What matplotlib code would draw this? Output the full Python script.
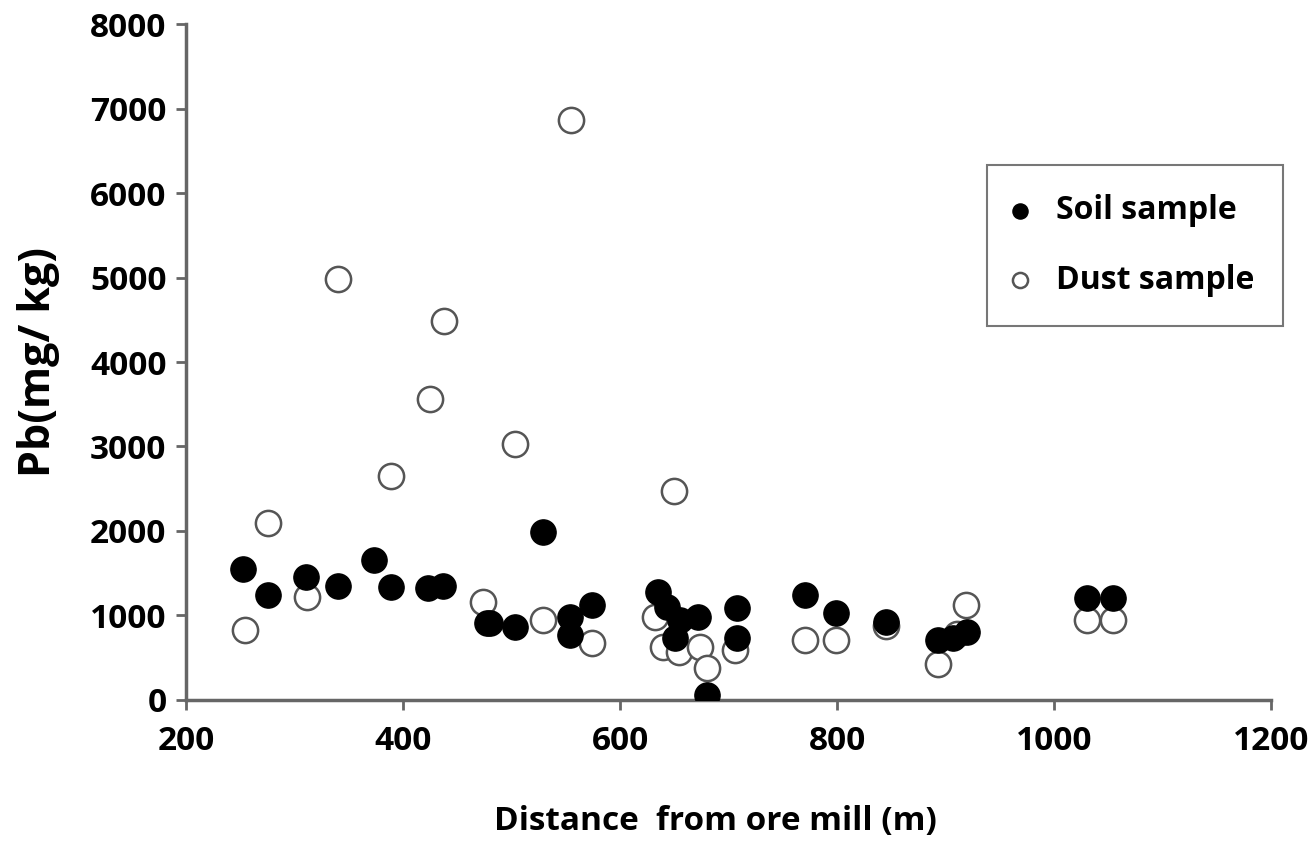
import numpy as np
import matplotlib
matplotlib.use("Agg")
import matplotlib.pyplot as plt

plt.rcParams['font.family'] = ['Open Sans', 'DejaVu Sans']
plt.rcParams['font.weight'] = 'bold'

# soil samples: distance (m), Pb (mg/kg)
soil_x = [253, 276, 311, 340, 373, 389, 423, 437, 477, 480, 503, 529, 554, 554,
          574, 635, 643, 655, 672, 651, 680, 708, 708, 770, 799, 845, 893, 907,
          920, 1030, 1054]
soil_y = [1547, 1240, 1452, 1346, 1653, 1334, 1322, 1346, 909, 909, 862, 1983,
          980, 767, 1121, 1275, 1098, 944, 980, 732, 59, 1086, 732, 1240, 1027,
          921, 708, 732, 803, 1204, 1204]

# dust samples
dust_x = [254, 276, 312, 340, 389, 425, 438, 474, 503, 529, 555, 574, 650, 632,
          640, 654, 674, 680, 706, 770, 799, 845, 893, 910, 919, 1030, 1054]
dust_y = [826, 2090, 1216, 4982, 2656, 3565, 4486, 1157, 3034, 944, 6870, 673,
          2479, 980, 626, 567, 626, 378, 590, 708, 708, 880, 420, 780, 1121,
          944, 944]

fig = plt.figure(figsize=(13.14, 8.46), dpi=100)
ax = fig.add_axes([0.1415, 0.1726, 0.826, 0.799])

ax.scatter(dust_x, dust_y, s=330, facecolors='white', edgecolors='#555555',
           linewidths=1.8, zorder=3, label='Dust sample')
ax.scatter(soil_x, soil_y, s=330, facecolors='black', edgecolors='black',
           linewidths=1.0, zorder=4, label='Soil sample')

ax.set_xlim(200, 1200)
ax.set_ylim(0, 8000)
ax.set_xticks(np.arange(200, 1201, 200))
ax.set_yticks(np.arange(0, 8001, 1000))

for s in ['top', 'right']:
    ax.spines[s].set_visible(False)
for s in ['left', 'bottom']:
    ax.spines[s].set_color('#666666')
    ax.spines[s].set_linewidth(2.5)
ax.tick_params(axis='both', direction='out', length=7, width=2, color='#666666',
               labelsize=24, pad=7)
ax.tick_params(axis='x', pad=11)
for lab in ax.get_xticklabels() + ax.get_yticklabels():
    lab.set_fontweight('bold')

ax.set_xlabel('Distance  from ore mill (m)', fontsize=24, fontweight='bold')
ax.xaxis.set_label_coords(0.488, -0.155)
ax.set_ylabel('Pb(mg/ kg)', fontsize=31, fontweight='bold')
ax.yaxis.set_label_coords(-0.116, 0.5)

h, l = ax.get_legend_handles_labels()
leg = ax.legend([h[1], h[0]], [l[1], l[0]], loc='upper left',
                bbox_to_anchor=(0.738, 0.791), borderaxespad=0, fontsize=23,
                frameon=True, fancybox=False, edgecolor='#555555', markerscale=0.6,
                handletextpad=1.0, labelspacing=1.15, borderpad=0.9,
                handlelength=0.25)
leg.get_frame().set_linewidth(1.5)
for t in leg.get_texts():
    t.set_fontweight('bold')

fig.savefig('out.png', dpi=100)
